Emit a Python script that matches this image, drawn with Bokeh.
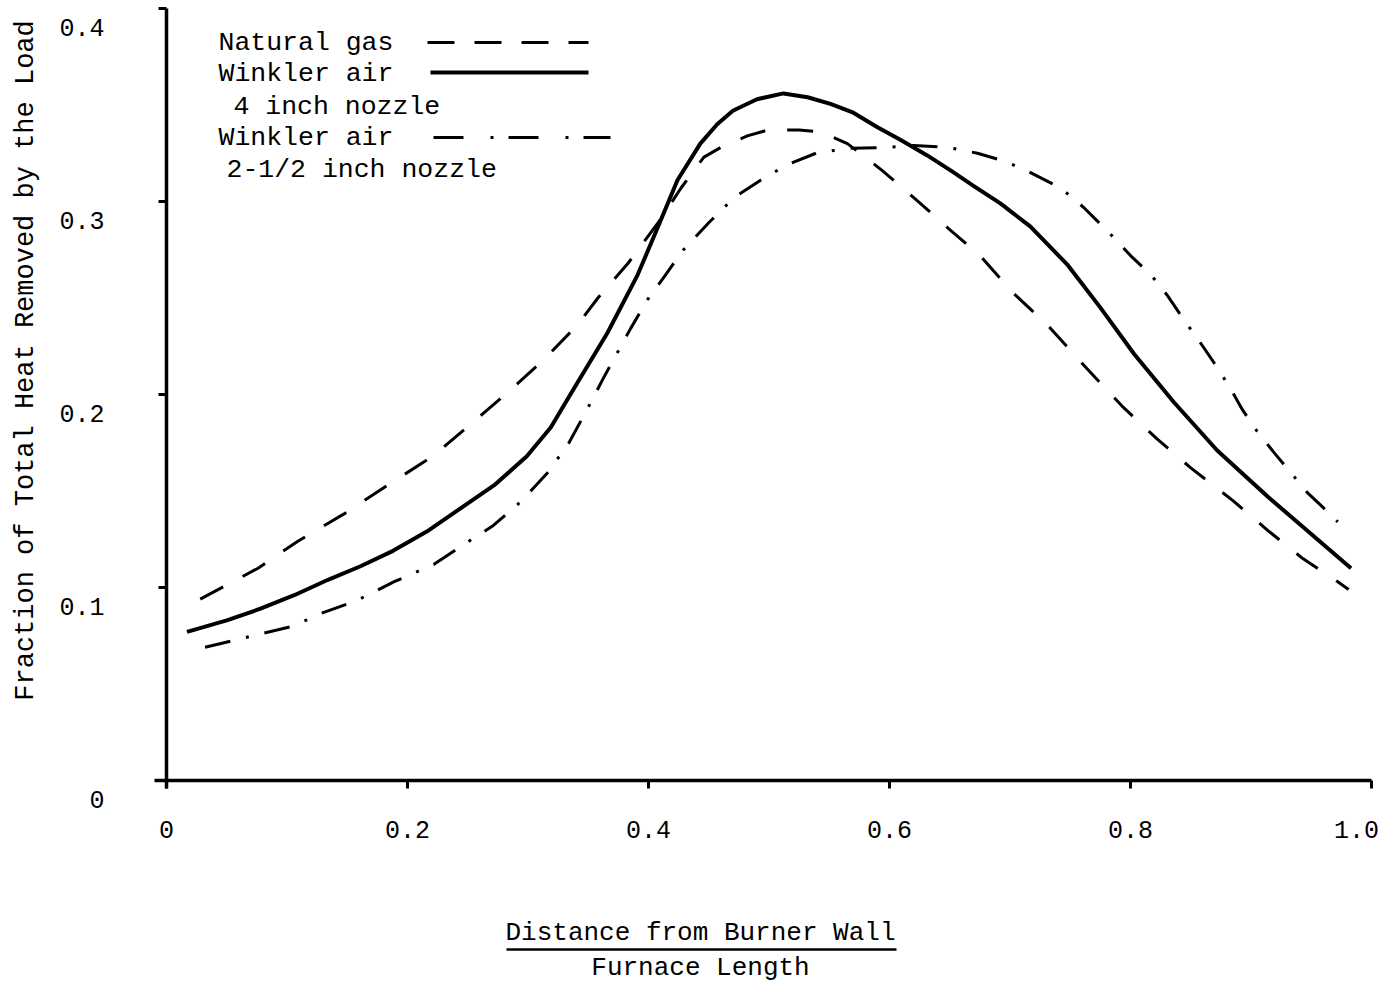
import math
from bokeh.plotting import figure
from bokeh.models import Range1d, FixedTicker, Label, LinearAxis
from bokeh.embed import file_html
from bokeh.resources import INLINE

# ---------------- data ----------------
x_ticks = [0, 0.2, 0.4, 0.6, 0.8, 1.0]
x_tick_labels = ["0", "0.2", "0.4", "0.6", "0.8", "1.0"]
y_ticks = [0, 0.1, 0.2, 0.3, 0.4]
y_tick_labels = ["0", "0.1", "0.2", "0.3", "0.4"]

series_names = ["Natural gas", "Winkler air", "Winkler air"]
series_notes = ["", "4 inch nozzle", "2-1/2 inch nozzle"]

natural_gas_x = [0.028, 0.076, 0.109, 0.147, 0.186, 0.221, 0.255, 0.283, 0.313, 0.341,
                 0.358, 0.383, 0.408, 0.427, 0.446, 0.460, 0.482, 0.499, 0.525, 0.543,
                 0.565, 0.580, 0.594, 0.622, 0.649, 0.675, 0.702, 0.731, 0.763, 0.793,
                 0.822, 0.850, 0.885, 0.915, 0.943, 0.972, 0.981]
natural_gas_y = [0.094, 0.110, 0.124, 0.138, 0.154, 0.168, 0.186, 0.201, 0.218, 0.236,
                 0.250, 0.268, 0.289, 0.307, 0.323, 0.328, 0.334, 0.337, 0.337, 0.336,
                 0.330, 0.323, 0.316, 0.301, 0.286, 0.272, 0.253, 0.236, 0.214, 0.194,
                 0.177, 0.162, 0.145, 0.129, 0.115, 0.103, 0.099]

winkler_4in_x = [0.017, 0.050, 0.078, 0.106, 0.134, 0.161, 0.188, 0.216, 0.244, 0.272,
                 0.299, 0.319, 0.338, 0.366, 0.391, 0.410, 0.424, 0.443, 0.457, 0.470,
                 0.490, 0.512, 0.532, 0.551, 0.570, 0.590, 0.609, 0.631, 0.651, 0.670,
                 0.692, 0.717, 0.748, 0.775, 0.803, 0.836, 0.872, 0.914, 0.955, 0.983]
winkler_4in_y = [0.077, 0.083, 0.089, 0.096, 0.104, 0.111, 0.119, 0.129, 0.141, 0.153,
                 0.168, 0.183, 0.203, 0.232, 0.262, 0.290, 0.311, 0.330, 0.340, 0.347,
                 0.353, 0.356, 0.354, 0.3506, 0.346, 0.3385, 0.332, 0.324, 0.316, 0.308,
                 0.299, 0.287, 0.267, 0.245, 0.221, 0.196, 0.171, 0.147, 0.125, 0.110]

winkler_2half_x = [0.032, 0.072, 0.105, 0.130, 0.157, 0.189, 0.222, 0.246, 0.271, 0.295,
                   0.317, 0.334, 0.348, 0.363, 0.385, 0.399, 0.413, 0.429, 0.450, 0.471,
                   0.493, 0.515, 0.539, 0.565, 0.597, 0.620, 0.649, 0.673, 0.695, 0.717,
                   0.742, 0.761, 0.782, 0.800, 0.817, 0.831, 0.844, 0.860, 0.872, 0.883,
                   0.893, 0.905, 0.919, 0.931, 0.947, 0.964, 0.972]
winkler_2half_y = [0.069, 0.075, 0.080, 0.087, 0.093, 0.103, 0.112, 0.122, 0.132, 0.145,
                   0.160, 0.175, 0.191, 0.209, 0.234, 0.249, 0.261, 0.275, 0.289, 0.302,
                   0.311, 0.319, 0.325, 0.3275, 0.328, 0.329, 0.328, 0.325, 0.321, 0.315,
                   0.307, 0.297, 0.284, 0.272, 0.262, 0.251, 0.239, 0.225, 0.214, 0.203,
                   0.192, 0.181, 0.170, 0.161, 0.149, 0.139, 0.134]

x_title = ["Distance from Burner Wall", "Furnace Length"]
y_title = "Fraction of Total Heat Removed by the Load"

# ---------------- layout (pixels of the 1385x983 canvas) ----------------
W, H = 1385, 983
X0, Y0 = 166, 780          # pixel of the data origin
XS, YS = 1205.0, 1930.0    # pixels per data unit


def dx(px):
    return (px - X0) / XS


def dy(py):
    return (Y0 - py) / YS


FONT = "Liberation Mono"
INK = "black"
DASH = "26 22"
DASHDOT = "26 16 3 16"

# the frame covers the whole canvas; axes are pinned at the data origin
p = figure(width=W, height=H, output_backend="svg", toolbar_location=None,
           x_range=Range1d(dx(0), dx(W)), y_range=Range1d(dy(H), dy(0)),
           min_border_left=0, min_border_right=0, min_border_top=0,
           min_border_bottom=0)
p.outline_line_color = None
p.xgrid.visible = False
p.ygrid.visible = False
p.background_fill_color = "white"
p.border_fill_color = "white"

p.line(natural_gas_x, natural_gas_y, line_color=INK, line_width=3, line_dash=DASH,
       line_join="round")
p.line(winkler_4in_x, winkler_4in_y, line_color=INK, line_width=4, line_join="round")
p.line(winkler_2half_x, winkler_2half_y, line_color=INK, line_width=3,
       line_dash=DASHDOT, line_join="round")

# ---- main axes: lines and tick marks only ----
xa = p.xaxis[0]
ya = p.yaxis[0]
xa.ticker = FixedTicker(ticks=x_ticks)
ya.ticker = FixedTicker(ticks=y_ticks)
xa.bounds = (dx(154), 1.0)
ya.bounds = (dy(788), 0.4)
for ax in (xa, ya):
    ax.fixed_location = 0
    ax.axis_line_width = 3.5
    ax.axis_line_color = INK
    ax.major_tick_line_width = 3
    ax.major_tick_line_color = INK
    ax.major_tick_out = 8
    ax.major_tick_in = 0
    ax.minor_tick_line_color = None
    ax.major_label_text_color = None


def label_axis(kind, ticks, labels, range_name, standoff):
    ax = LinearAxis(ticker=FixedTicker(ticks=ticks),
                    major_label_overrides=dict(zip(ticks, labels)))
    if kind == "x":
        ax.x_range_name = range_name
    else:
        ax.y_range_name = range_name
    ax.fixed_location = 0
    ax.axis_line_color = None
    ax.major_tick_line_color = None
    ax.minor_tick_line_color = None
    ax.major_tick_out = 0
    ax.major_tick_in = 0
    ax.major_label_standoff = standoff
    ax.major_label_text_font = FONT
    ax.major_label_text_font_size = "25px"
    ax.major_label_text_color = INK
    p.add_layout(ax, "below" if kind == "x" else "left")
    return ax


# x tick labels (the last one sits a little left of its tick, as in the reference)
shift_last = 15 / XS
p.extra_x_ranges = {"xlast": Range1d(dx(0) + shift_last, dx(W) + shift_last)}
label_axis("x", x_ticks[:-1], x_tick_labels[:-1], "default", 40)
label_axis("x", x_ticks[-1:], x_tick_labels[-1:], "xlast", 40)

# y tick labels sit ~19 px below their ticks in the reference
shift_y = 19 / YS
p.extra_y_ranges = {"ylab": Range1d(dy(H) + shift_y, dy(0) + shift_y)}
label_axis("y", y_ticks, y_tick_labels, "ylab", 62)

# ---- axis titles ----
p.add_layout(Label(x=dx(25), y=dy(360), text=y_title, angle=math.pi / 2,
                   text_align="center", text_baseline="middle", text_font=FONT,
                   text_font_size="27px", text_color=INK))
p.add_layout(Label(x=dx(700), y=dy(932), text=x_title[0], text_align="center",
                   text_baseline="middle", text_font=FONT, text_font_size="26px",
                   text_color=INK))
p.add_layout(Label(x=dx(700), y=dy(967), text=x_title[1], text_align="center",
                   text_baseline="middle", text_font=FONT, text_font_size="26px",
                   text_color=INK))
p.line([dx(506), dx(896)], [dy(949), dy(949)], line_color=INK, line_width=2.5)

# ---- legend: text on the left, line sample on the right ----
leg_text = [(218, 42, series_names[0]),
            (218, 73, series_names[1]),
            (233, 106, series_notes[1]),
            (218, 137, series_names[2]),
            (226, 169, series_notes[2])]
for lx, ly, t in leg_text:
    p.add_layout(Label(x=dx(lx), y=dy(ly), text=t, text_align="left",
                       text_baseline="middle", text_font=FONT,
                       text_font_size="26.5px", text_color=INK))
p.line([dx(427), dx(588)], [dy(42), dy(42)], line_color=INK, line_width=3,
       line_dash="27 20")
p.line([dx(430), dx(588)], [dy(72), dy(72)], line_color=INK, line_width=4)
p.line([dx(433), dx(610)], [dy(137), dy(137)], line_color=INK, line_width=3,
       line_dash="30 27 3 15")

open("out.html", "w").write(file_html(p, INLINE))
